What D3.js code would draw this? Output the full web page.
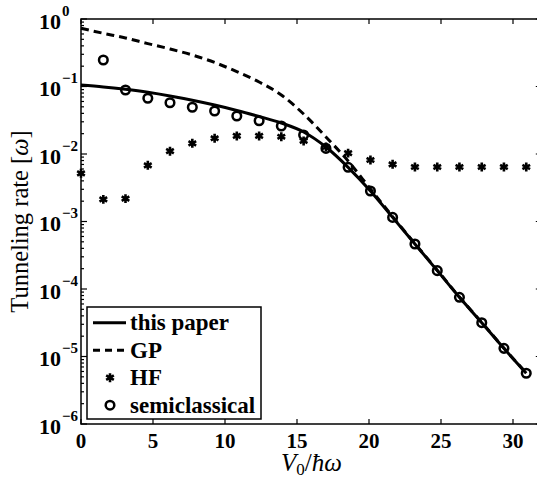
<!DOCTYPE html>
<html>
<head>
<meta charset="utf-8">
<script src="https://cdn.jsdelivr.net/npm/d3@7"></script>
<style>
body { margin: 0; background: #fff; }
text { font-family: "Liberation Serif", "Times New Roman", serif; fill: #000; }
</style>
</head>
<body>
<div id="chart"></div>
<script>
// lattice depths V0/hbar omega
const vFull = [0, 1.55, 3.09, 4.64, 6.18, 7.73, 9.28, 10.82, 12.37, 13.91, 15.46,
    17.01, 18.55, 20.10, 21.64, 23.19, 24.74, 26.28, 27.83, 29.37, 30.92];

// tunneling rates
const thisPaper = [0.105, 0.0986, 0.0907, 0.082, 0.0724, 0.0627, 0.0532, 0.0442, 0.0359, 0.0288, 0.0212,
    0.0127, 0.00635, 0.00283, 0.00115, 4.64e-4, 1.87e-4, 7.53e-5, 3.17e-5, 1.32e-5, 5.64e-6];
const gp = [0.728, 0.614, 0.523, 0.432, 0.36, 0.293, 0.227, 0.166, 0.1166, 0.0748, 0.0391,
    0.0179, 0.00788, 0.00303, 0.00118, 4.7e-4, 1.9e-4, 7.6e-5, 3.2e-5, 1.33e-5, 5.7e-6];
const hf = [5.18e-3, 2.13e-3, 2.18e-3, 6.8e-3, 0.0110, 0.0144, 0.0171, 0.0185, 0.0185, 0.0180, 0.0156,
    0.0127, 0.0103, 8.15e-3, 7.04e-3, 6.42e-3, 6.42e-3, 6.42e-3, 6.42e-3, 6.42e-3, 6.42e-3];
const semiclassical = [null, 0.247, 0.0887, 0.0669, 0.0575, 0.0492, 0.0434, 0.0366, 0.0311, 0.0260, 0.0191,
    0.0121, 0.00635, 0.00283, 0.00115, 4.64e-4, 1.87e-4, 7.53e-5, 3.17e-5, 1.32e-5, 5.64e-6];

const xTicks = [0, 5, 10, 15, 20, 25, 30];
const yExps = [0, -1, -2, -3, -4, -5, -6];
const legendItems = ["this paper", "GP", "HF", "semiclassical"];

const width = 537, height = 480;
const axL = 81, axR = 541.8, axT = 19, axB = 424;

const svg = d3.select("#chart")
    .append("svg")
    .attr("width", width)
    .attr("height", height);

const x = d3.scaleLinear().domain([0, 32]).range([axL, axR]);
const y = d3.scaleLog().domain([1e-6, 1]).range([axB, axT]);

// ticks (inward, all four sides)
const minor = [];
yExps.slice(1).forEach(e => {
    for (let m = 2; m <= 9; m++) minor.push(m * Math.pow(10, e));
});

const ticks = svg.append("g").attr("stroke", "#000").attr("stroke-width", 1.2);
xTicks.forEach(t => {
    ticks.append("line").attr("x1", x(t)).attr("x2", x(t)).attr("y1", axB).attr("y2", axB - 5);
    ticks.append("line").attr("x1", x(t)).attr("x2", x(t)).attr("y1", axT).attr("y2", axT + 5);
});
yExps.forEach(e => {
    const v = Math.pow(10, e);
    ticks.append("line").attr("x1", axL).attr("x2", axL + 6).attr("y1", y(v)).attr("y2", y(v));
    ticks.append("line").attr("x1", axR).attr("x2", axR - 6).attr("y1", y(v)).attr("y2", y(v));
});
minor.forEach(v => {
    ticks.append("line").attr("x1", axL).attr("x2", axL + 3).attr("y1", y(v)).attr("y2", y(v));
    ticks.append("line").attr("x1", axR).attr("x2", axR - 3).attr("y1", y(v)).attr("y2", y(v));
});

// axes box
svg.append("rect")
    .attr("x", axL).attr("y", axT)
    .attr("width", axR - axL).attr("height", axB - axT)
    .attr("fill", "none").attr("stroke", "#000").attr("stroke-width", 1.5);

// tick labels
svg.append("g").selectAll("text")
    .data(xTicks)
    .join("text")
    .attr("x", d => x(d))
    .attr("y", 448)
    .attr("text-anchor", "middle")
    .attr("font-size", 21)
    .attr("font-weight", "bold")
    .text(d => d);

const yl = svg.append("g").selectAll("text")
    .data(yExps)
    .join("text")
    .attr("x", 39)
    .attr("y", d => y(Math.pow(10, d)) + 9.5)
    .attr("font-size", 22)
    .attr("font-weight", "bold");
yl.append("tspan").text("10");
yl.append("tspan")
    .attr("font-size", 15)
    .attr("dy", -13)
    .attr("dx", 1)
    .text(d => d === 0 ? "0" : "\u2212" + (-d));

// axis labels
const xl = svg.append("text")
    .attr("x", (axL + axR) / 2)
    .attr("y", 471)
    .attr("text-anchor", "middle")
    .attr("font-size", 25);
xl.append("tspan").attr("font-style", "italic").text("V");
xl.append("tspan").attr("font-size", 17).attr("dy", 4).text("0");
xl.append("tspan").attr("dy", -4).text("/");
xl.append("tspan").attr("font-style", "italic").text("\u0127\u03c9");

const ylab = svg.append("text")
    .attr("transform", `translate(28, ${(axT + axB) / 2}) rotate(-90)`)
    .attr("text-anchor", "middle")
    .attr("font-size", 24.5);
ylab.append("tspan").text("Tunneling rate [");
ylab.append("tspan").attr("font-style", "italic").text("\u03c9");
ylab.append("tspan").text("]");

// series
const plot = svg.append("g");

const line = d3.line()
    .x((d, i) => x(vFull[i]))
    .y(d => y(d))
    .curve(d3.curveMonotoneX);

plot.append("path")
    .attr("d", line(gp))
    .attr("fill", "none")
    .attr("stroke", "#000")
    .attr("stroke-width", 3)
    .attr("stroke-dasharray", "8,5");

plot.append("path")
    .attr("d", line(thisPaper))
    .attr("fill", "none")
    .attr("stroke", "#000")
    .attr("stroke-width", 3);

const star = d3.symbol().type(d3.symbolAsterisk).size(55);
plot.selectAll(".hf")
    .data(hf)
    .join("path")
    .attr("class", "hf")
    .attr("d", star)
    .attr("transform", (d, i) => `translate(${x(vFull[i])},${y(d)})`)
    .attr("fill", "none")
    .attr("stroke", "#000")
    .attr("stroke-width", 2.6);

plot.selectAll(".sc")
    .data(semiclassical.map((d, i) => ({v: vFull[i], r: d})).filter(d => d.r !== null))
    .join("circle")
    .attr("class", "sc")
    .attr("cx", d => x(d.v))
    .attr("cy", d => y(d.r))
    .attr("r", 4.3)
    .attr("fill", "none")
    .attr("stroke", "#000")
    .attr("stroke-width", 2.5);

// legend
const lg = svg.append("g");
lg.append("rect")
    .attr("x", 87).attr("y", 307)
    .attr("width", 174).attr("height", 112)
    .attr("fill", "#fff").attr("stroke", "#000").attr("stroke-width", 1.5);

legendItems.forEach((name, i) => {
    const cy = 322.7 + i * 27.5;
    if (i === 0 || i === 1) {
        lg.append("line")
            .attr("x1", 93).attr("x2", 126).attr("y1", cy).attr("y2", cy)
            .attr("stroke", "#000").attr("stroke-width", 3)
            .attr("stroke-dasharray", i === 1 ? "7,5" : null);
    } else if (i === 2) {
        lg.append("path").attr("d", star)
            .attr("transform", `translate(110,${cy})`)
            .attr("fill", "none").attr("stroke", "#000").attr("stroke-width", 2.6);
    } else {
        lg.append("circle").attr("cx", 110).attr("cy", cy).attr("r", 4.3)
            .attr("fill", "none").attr("stroke", "#000").attr("stroke-width", 2.5);
    }
    lg.append("text")
        .attr("x", 130).attr("y", cy + 7.5)
        .attr("font-size", 23)
        .attr("font-weight", "bold")
        .text(name);
});
</script>
</body>
</html>
